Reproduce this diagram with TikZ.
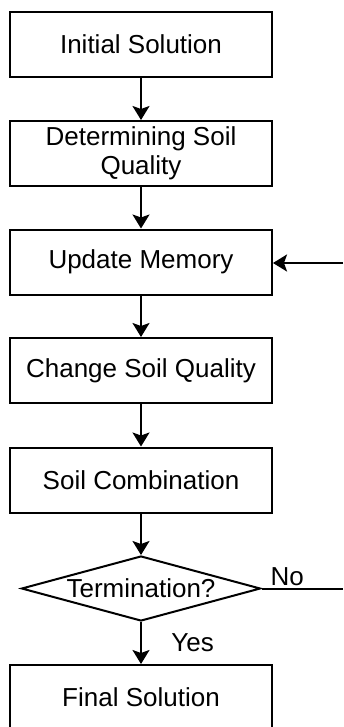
\documentclass[tikz,border=0pt]{standalone}
\usepackage{fontspec}
\setmainfont{Liberation Sans}
\usetikzlibrary{positioning,shapes.geometric,arrows.meta}
\tikzset{
  procbox/.style={draw, line width=2pt, minimum width=262pt, minimum height=65pt, align=center, inner sep=2pt},
  decision/.style={draw, diamond, line width=2pt, aspect=3.68, minimum width=239pt, minimum height=65pt, inner sep=0pt},
  flow/.style={line width=2pt, -{Stealth[length=14pt,width=17pt,inset=3pt]}},
  plain/.style={line width=2pt},
}

\begin{document}
\begin{tikzpicture}[x=1pt,y=-1pt,font=\fontsize{26}{29}\selectfont]
\useasboundingbox (0,0) rectangle (343,727);
% boxes of the flow, top to bottom
\node[procbox] (init) at (141,44.5) {Initial Solution};
\node[procbox] (quality) at (141,153.5) {Determining Soil\\Quality};
\node[procbox] (memory) at (141,262) {Update Memory};
\node[procbox] (change) at (141,370.5) {Change Soil Quality};
\node[procbox] (comb) at (141,480) {Soil Combination};
\node[decision] (term) at (141,588.5) {Termination?};
\node[procbox] (final) at (141,697.5) {Final Solution};
% loop ends at the right margin
\coordinate (loopin) at (343,263);
\coordinate (noend) at (343,588.5);

\draw[flow] (init) -- (quality);
\draw[flow] (quality) -- (memory);
\draw[flow] (memory) -- (change);
\draw[flow] (change) -- (comb);
\draw[flow] (comb) -- (term);
\draw[flow] (term) -- node[right=26pt] {Yes} (final);
\draw[plain] (term.east) -- node[pos=0, anchor=south west, inner sep=0pt, xshift=8pt, yshift=2pt] {No} (noend);
\draw[flow] (loopin) -- (loopin -| memory.east);
\end{tikzpicture}
\end{document}
